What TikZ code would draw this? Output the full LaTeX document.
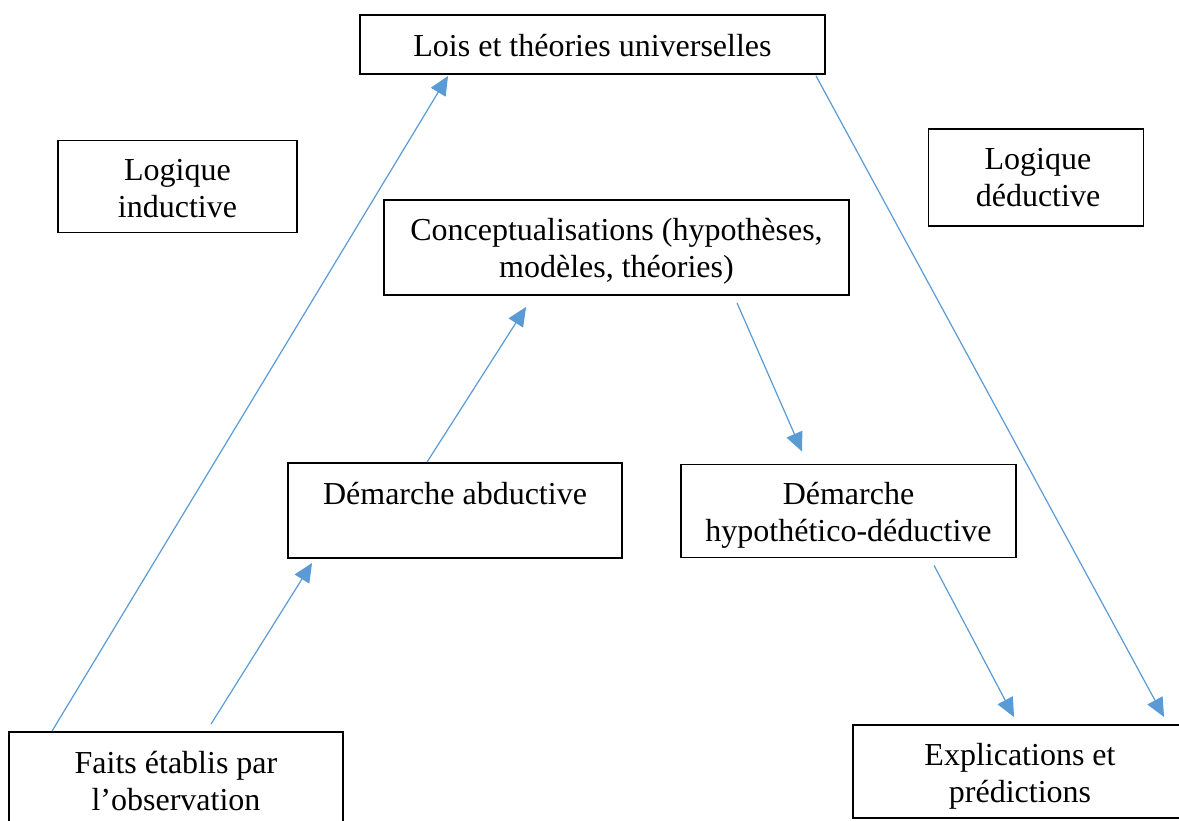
\documentclass[tikz,border=0pt]{standalone}
\usepackage{fontspec}
\setmainfont{Liberation Serif}
\usetikzlibrary{calc,arrows.meta}
\definecolor{linkblue}{HTML}{5B9BD5}
\tikzset{
  box/.style={draw=black, line width=1.9pt, rectangle, inner sep=0pt},
  txt/.style={inner sep=0pt, align=center, font=\fontsize{32}{37}\selectfont},
  conn/.style={draw=linkblue, line width=1.2pt,
    -{Triangle[length=19pt,width=17pt]}}
}
\begin{document}
\begin{tikzpicture}[x=1pt,y=-1pt]
\useasboundingbox (0,0) rectangle (1179,820);
\clip (0,0) rectangle (1179,820);
\fill[white] (0,0) rectangle (1179,820);

% frames
\node[box, minimum width=465pt, minimum height=59pt] (lois) at (592.5,44.5) {};
\node[box, minimum width=239pt, minimum height=92pt] (ind) at (177.5,186.5) {};
\node[box, minimum width=215pt, minimum height=97pt] (ded) at (1036,177.5) {};
\node[box, minimum width=465pt, minimum height=95pt] (concept) at (616.5,247.5) {};
\node[box, minimum width=334pt, minimum height=95pt] (abd) at (455,510.5) {};
\node[box, minimum width=335pt, minimum height=93pt] (hyp) at (848.5,511) {};
\node[box, minimum width=334pt, minimum height=96pt] (faits) at (176,780) {};
\node[box, minimum width=334pt, minimum height=93pt] (expl) at (1020,771.5) {};

% texts inside the frames
\node[txt] (loisT) at ($(lois.center)+(0,1)$) {Lois et théories universelles};
\node[txt] (indT) at ($(ind.center)+(0,2)$) {Logique\\inductive};
\node[txt] (dedT) at ($(ded.center)+(2,0)$) {Logique\\déductive};
\node[txt] (conceptT) at ($(concept.center)+(0,4)$) {Conceptualisations (hypothèses,\\modèles, théories)};
\node[txt] (abdT) at ($(abd.center)+(0,1)$) {Démarche abductive\\\mbox{}};
\node[txt] (hypT) at ($(hyp.center)+(0,4)$) {Démarche\\hypothético-déductive};
\node[txt] (faitsT) at ($(faits.center)+(0,1)$) {Faits établis par\\l’observation};
\node[txt] (explT) at ($(expl.center)+(0,5)$) {Explications et\\prédictions};

% connectors
\draw[conn] ($(faits.north west)+(44,0)$) -- ($(lois.south west)+(89,1)$);
\draw[conn] ($(lois.south west)+(457,1)$) -- ($(expl.north west)+(312,-7)$);
\draw[conn] ($(abd.north west)+(140,0)$) -- ($(concept.south west)+(143,11)$);
\draw[conn] ($(concept.south west)+(354,7)$) -- ($(hyp.north west)+(122,-12)$);
\draw[conn] ($(faits.north west)+(203,-7)$) -- ($(abd.south west)+(25,4)$);
\draw[conn] ($(hyp.south west)+(254,7)$) -- ($(expl.north west)+(162,-7)$);
\end{tikzpicture}
\end{document}
